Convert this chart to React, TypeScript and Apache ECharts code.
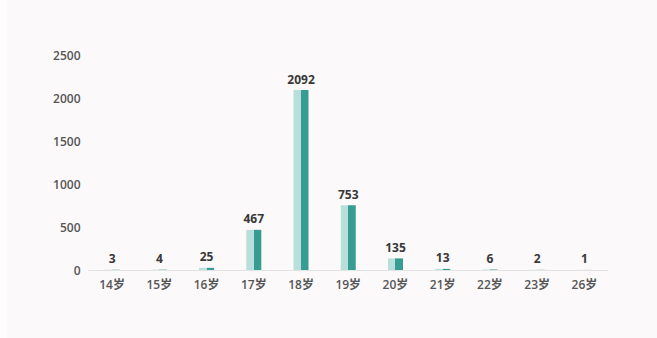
import React, { useEffect, useRef } from "react";
import * as echarts from "echarts";

const categories = ["14岁", "15岁", "16岁", "17岁", "18岁", "19岁", "20岁", "21岁", "22岁", "23岁", "26岁"];
const counts = [3, 4, 25, 467, 2092, 753, 135, 13, 6, 2, 1];
const yTicks = [0, 500, 1000, 1500, 2000, 2500];

const LIGHT = "#b9dfdb";
const DARK = "#379c91";
const FONT = "'Open Sans', 'Noto Sans CJK SC', sans-serif";

export default function App() {
  const ref = useRef<HTMLDivElement>(null);

  useEffect(() => {
    if (!ref.current) return;
    const chart = echarts.init(ref.current, null, { renderer: "svg" });
    // each bar: pale left half, deep teal right half
    const split = new echarts.graphic.LinearGradient(0, 0, 1, 0, [
      { offset: 0, color: LIGHT },
      { offset: 0.5, color: LIGHT },
      { offset: 0.5, color: DARK },
      { offset: 1, color: DARK },
    ]);
    chart.setOption({
      animation: false,
      backgroundColor: "#fbf9fa",
      grid: { left: 81.5, right: 49, top: 55, bottom: 68, containLabel: false },
      xAxis: {
        type: "category",
        data: categories,
        axisLine: { lineStyle: { color: "#e3e3e3", width: 1 } },
        axisTick: { show: false },
        axisLabel: {
          color: "#555",
          fontSize: 12,
          fontWeight: 600,
          fontFamily: FONT,
          margin: 8,
        },
      },
      yAxis: {
        type: "value",
        min: yTicks[0],
        max: yTicks[yTicks.length - 1],
        interval: 500,
        axisLine: { show: false },
        axisTick: { show: false },
        splitLine: { show: false },
        axisLabel: {
          color: "#555",
          fontSize: 12,
          fontWeight: 600,
          fontFamily: FONT,
          margin: 8,
          formatter: (v: number) => String(v),
        },
      },
      series: [
        {
          type: "bar",
          data: counts,
          barWidth: 15,
          itemStyle: { color: split },
          label: {
            show: true,
            position: "top",
            distance: 5,
            color: "#383838",
            fontSize: 12,
            fontWeight: "bold",
            fontFamily: FONT,
          },
        },
      ],
    });
    return () => chart.dispose();
  }, []);

  return (
    <div
      ref={ref}
      style={{ position: "absolute", left: 7, top: 0, width: 650, height: 338 }}
    />
  );
}
